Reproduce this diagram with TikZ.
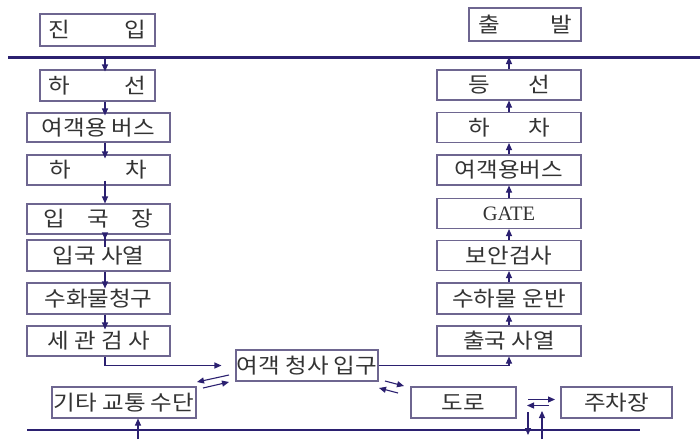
\documentclass[tikz,border=0pt]{standalone}
\usepackage{fontspec}
\setmainfont{Noto Sans CJK KR}[FakeStretch=1.12]
\newfontfamily\gatefont{Liberation Serif}
\usetikzlibrary{arrows.meta,calc}
\definecolor{navy}{HTML}{2B2070}
\definecolor{boxc}{HTML}{6E6690}
\definecolor{txt}{HTML}{333333}
\begin{document}
\begin{tikzpicture}[x=1pt,y=-1pt,
  box/.style={draw=boxc,line width=1.1pt,inner sep=0pt,text=txt,
    font=\fontsize{21}{24}\selectfont,anchor=center},
  bl/.style={box,minimum width=115pt},
  bw/.style={box,minimum width=143pt},
  arr/.style={draw=navy,line width=1.1pt,-{Triangle[length=7pt,width=6pt]}},
  ln/.style={draw=navy,line width=1.1pt}]
\useasboundingbox[fill=white] (0,0) rectangle (700,439);
% rule lines
\coordinate (ta) at (8,57);
\coordinate (tb) at (700,57);
\draw[navy,line width=3pt] (ta) -- (tb);
\coordinate (ba) at (27,430);
\coordinate (bb) at (640,430);
\draw[ln] (ba) -- (bb);
\coordinate (lx) at (105,57);
% left column
\node[bl,minimum height=32pt] (jinip) at (97.5,30) {\makebox[98pt]{진\hfill 입}};
\node[bl,minimum height=31pt] (hasun) at (97.5,85.5) {\makebox[98pt]{하\hfill 선}};
\node[bw,minimum height=29pt] (bus1) at (98.5,127.5) {여객용 버스};
\node[bw,minimum height=30pt] (hacha1) at (98.5,170) {\makebox[98pt]{하\hfill 차}};
\node[bw,minimum height=30pt] (ipgukjang) at (98.5,219) {\makebox[110pt]{입\hfill 국\hfill 장}};
\node[bw,minimum height=31pt] (sayeol1) at (98.5,255.5) {입국 사열};
\node[bw,minimum height=31pt] (suhwa) at (98.5,298.5) {수화물청구};
\node[bw,minimum height=30pt] (segwan) at (98.5,341) {세 관 검 사};
\node[box,minimum width=144pt,minimum height=31pt] (gita) at (124,402.5) {기타 교통 수단};
\node[box,minimum width=142pt,minimum height=31pt] (terminal) at (307,365.5) {여객 청사 입구};
\node[box,minimum width=105pt,minimum height=31pt] (doro) at (463.5,402.5) {도로};
\node[box,minimum width=111pt,minimum height=31pt] (jucha) at (616.5,402.5) {주차장};
% right column
\node[box,minimum width=112pt,minimum height=33pt] (chulbal) at (525,24.5) {\makebox[94pt]{출\hfill 발}};
\node[box,minimum width=144pt,minimum height=30pt] (deungsun) at (509,85) {\makebox[82pt]{등\hfill 선}};
\node[box,minimum width=144pt,minimum height=30pt] (hacha2) at (509,127.5) {\makebox[82pt]{하\hfill 차}};
\node[box,minimum width=144pt,minimum height=30pt] (bus2) at (509,170) {여객용버스};
\node[box,minimum width=144pt,minimum height=30pt] (gate) at (509,213.5) {\gatefont\fontsize{20.5}{23}\selectfont GATE};
\node[box,minimum width=144pt,minimum height=30pt] (boan) at (509,255.5) {보안검사};
\node[box,minimum width=144pt,minimum height=31pt] (suha) at (509,298.5) {수하물 운반};
\node[box,minimum width=144pt,minimum height=30pt] (chulguk) at (509,341) {출국 사열};
% left column arrows
\draw[arr,shorten >=-2pt] (lx) -- (hasun.north -| lx);
\draw[arr,shorten >=-3pt] (hasun.south -| lx) -- (bus1.north -| lx);
\draw[arr,shorten >=-4pt] (bus1.south -| lx) -- (hacha1.north -| lx);
\draw[arr,shorten <=-5pt] (hacha1.south -| lx) -- (ipgukjang.north -| lx);
\draw[arr,shorten <=-12pt] (ipgukjang.south -| lx) -- (sayeol1.north -| lx);
\draw[arr,shorten >=-6pt] (sayeol1.south -| lx) -- (suhwa.north -| lx);
\draw[arr,shorten >=-4pt] (suhwa.south -| lx) -- (segwan.north -| lx);
\draw[arr,shorten >=14pt] (segwan.south -| lx) |- (terminal.west);
% right column arrows
\draw[arr] (terminal.east) -| (chulguk.south);
\draw[arr] (chulguk.north) -- (suha.south);
\draw[arr] (suha.north) -- (boan.south);
\draw[arr] (boan.north) -- (gate.south);
\draw[arr] (gate.north) -- (bus2.south);
\draw[arr] (bus2.north) -- (hacha2.south);
\draw[arr] (hacha2.north) -- (deungsun.south);
\coordinate (rx) at (509,57);
\draw[arr] (deungsun.north) -- (rx);
% paired arrows
\coordinate (p1a) at (229,375); \coordinate (p1b) at (197,382);
\coordinate (p2a) at (203,388); \coordinate (p2b) at (229,382);
\draw[arr] (p1a) -- (p1b);
\draw[arr] (p2a) -- (p2b);
\coordinate (q1a) at (385,381); \coordinate (q1b) at (404,386);
\coordinate (q2a) at (398,393); \coordinate (q2b) at (379,388);
\draw[arr] (q1a) -- (q1b);
\draw[arr] (q2a) -- (q2b);
\coordinate (r1a) at (528,399.5); \coordinate (r1b) at (555,399.5);
\coordinate (r2a) at (549,405.5); \coordinate (r2b) at (527,405.5);
\draw[arr] (r1a) -- (r1b);
\draw[arr] (r2a) -- (r2b);
\coordinate (v1a) at (528,412); \coordinate (v1b) at (528,435);
\coordinate (v2a) at (542,439); \coordinate (v2b) at (542,411);
\draw[arr] (v1a) -- (v1b);
\draw[arr] (v2a) -- (v2b);
\coordinate (gx) at (138,439);
\draw[arr] (gx) -- (gita.south -| gx);
\end{tikzpicture}
\end{document}
